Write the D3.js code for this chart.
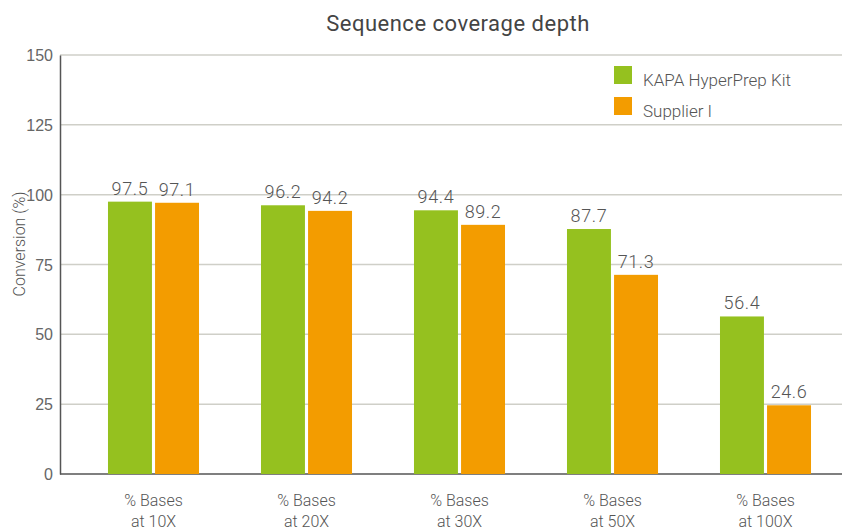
<!DOCTYPE html>
<html>
<head>
<meta charset="utf-8">
<script src="https://cdn.jsdelivr.net/npm/d3@7"></script>
<style>
  body { margin: 0; background: #fff; }
  svg { display: block; font-family: Roboto, "Open Sans", sans-serif; }
</style>
</head>
<body>
<svg id="chart" width="845" height="532"></svg>
<script>
const categories = ["% Bases\nat 10X", "% Bases\nat 20X", "% Bases\nat 30X", "% Bases\nat 50X", "% Bases\nat 100X"];
const seriesNames = ["KAPA HyperPrep Kit", "Supplier I"];
const kapaValues = [97.5, 96.2, 94.4, 87.7, 56.4];
const supplierValues = [97.1, 94.2, 89.2, 71.3, 24.6];
const yTicks = [0, 25, 50, 75, 100, 125, 150];
const colors = ["#95c11f", "#f39c00"];

const svg = d3.select("#chart");
const x = d3.scaleBand().domain(categories).range([77, 842]).paddingInner(0.405).paddingOuter(0.2025);
const x1 = d3.scaleBand().domain(seriesNames).range([0, x.bandwidth()]).paddingInner(0.066);
const y = d3.scaleLinear().domain([0, 150]).range([474, 55]);

// gridlines
svg.append("g").selectAll("line").data(yTicks.filter(d => d > 0)).join("line")
  .attr("x1", 60).attr("x2", 842)
  .attr("y1", d => y(d)).attr("y2", d => y(d))
  .attr("stroke", "#cfcfc8").attr("stroke-width", 1.5);

// y axis
const yAxis = d3.axisLeft(y).tickValues(yTicks).tickSize(0).tickPadding(7);
const gy = svg.append("g").attr("transform", "translate(60,0)").call(yAxis);
gy.select(".domain").attr("stroke", "#555").attr("stroke-width", 1.5);
gy.selectAll("text").attr("font-size", 16).attr("font-weight", 300).attr("fill", "#666").attr("dy", "0.35em");

// x baseline
svg.append("line").attr("x1", 60).attr("x2", 842).attr("y1", y(0)).attr("y2", y(0))
  .attr("stroke", "#555").attr("stroke-width", 1.5);

const data = categories.map((c, i) => ({cat: c, vals: [kapaValues[i], supplierValues[i]]}));
const groups = svg.append("g").selectAll("g").data(data).join("g")
  .attr("transform", d => `translate(${x(d.cat)},0)`);

groups.selectAll("rect").data(d => d.vals.map((v, j) => ({name: seriesNames[j], v, j}))).join("rect")
  .attr("x", d => x1(d.name)).attr("width", x1.bandwidth())
  .attr("y", d => y(d.v)).attr("height", d => y(0) - y(d.v))
  .attr("fill", d => colors[d.j]);

groups.selectAll("text.val").data(d => d.vals.map((v, j) => ({name: seriesNames[j], v, j}))).join("text")
  .attr("class", "val")
  .attr("x", d => x1(d.name) + x1.bandwidth() / 2)
  .attr("y", d => y(d.v) - 7)
  .attr("text-anchor", "middle").attr("font-size", 18).attr("font-weight", 300)
  .attr("letter-spacing", 0.6).attr("fill", "#555")
  .text(d => d.v.toFixed(1));

// x labels
const xl = svg.append("g").selectAll("text").data(categories).join("text")
  .attr("x", d => x(d) + x.bandwidth() / 2)
  .attr("y", 506)
  .attr("text-anchor", "middle").attr("font-size", 16).attr("font-weight", 300).attr("fill", "#555");
xl.each(function(d) {
  const parts = d.split("\n");
  d3.select(this).selectAll("tspan").data(parts).join("tspan")
    .attr("x", x(d) + x.bandwidth() / 2)
    .attr("dy", (p, i) => i === 0 ? 0 : 21)
    .text(p => p);
});

// y label
svg.append("text").attr("transform", "translate(25,244) rotate(-90)")
  .attr("text-anchor", "middle").attr("font-size", 16).attr("font-weight", 300).attr("fill", "#555")
  .text("Conversion (%)");

// title
svg.append("text").attr("x", 458).attr("y", 31).attr("text-anchor", "middle")
  .attr("font-size", 22).attr("font-weight", 400).attr("letter-spacing", 0.5).attr("fill", "#444")
  .text("Sequence coverage depth");

// legend
const leg = svg.append("g").selectAll("g").data(seriesNames).join("g")
  .attr("transform", (d, i) => `translate(614,${66 + i * 31})`);
leg.append("rect").attr("width", 18).attr("height", 18).attr("fill", (d, i) => colors[i]);
leg.append("text").attr("x", 29).attr("y", 20).attr("font-size", 17).attr("font-weight", 300)
  .attr("fill", "#555").text(d => d);
</script>
</body>
</html>
